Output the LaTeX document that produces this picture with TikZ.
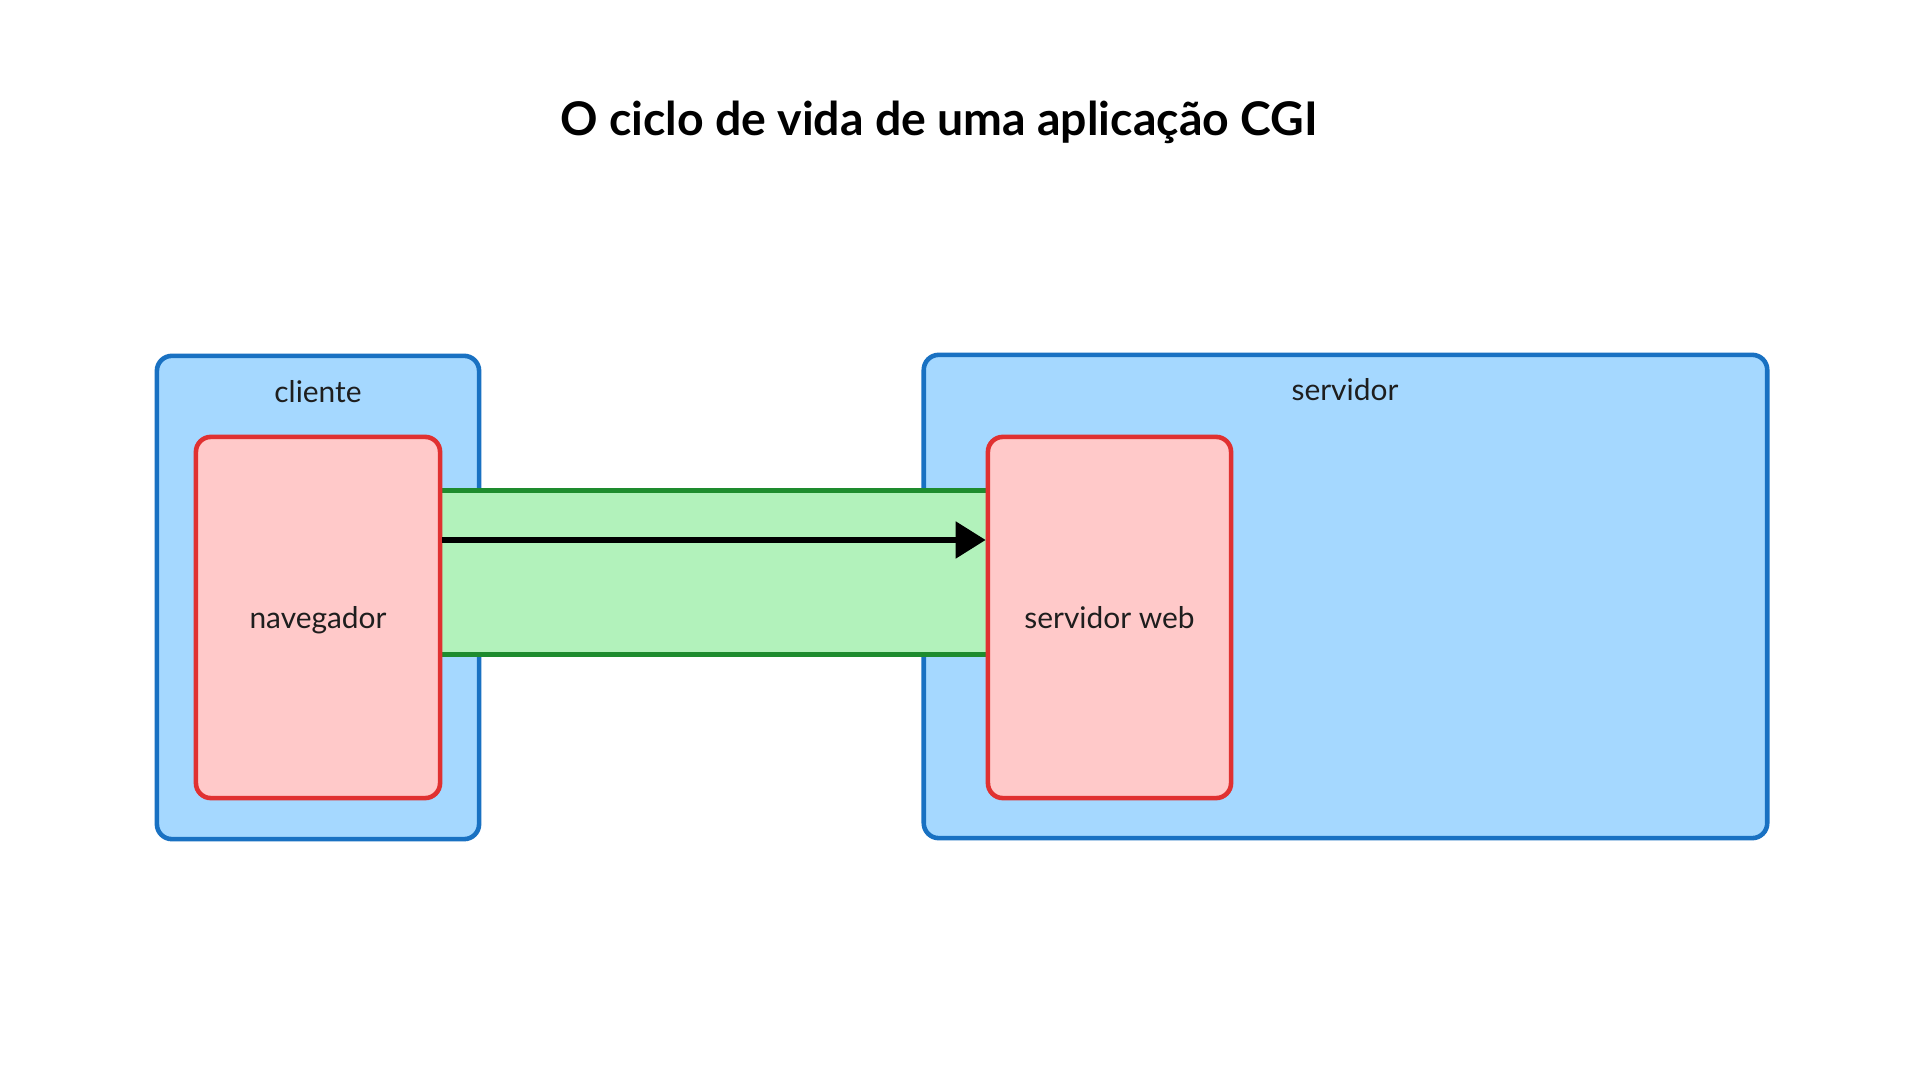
\documentclass[tikz,border=0pt]{standalone}
\usepackage{fontspec}
\setmainfont{Lato}
\usetikzlibrary{arrows.meta}
\definecolor{bluefill}{HTML}{A5D8FF}
\definecolor{bluestroke}{HTML}{1971C2}
\definecolor{redfill}{HTML}{FFC9C9}
\definecolor{redstroke}{HTML}{E03131}
\definecolor{greenfill}{HTML}{B2F2BB}
\definecolor{greenstroke}{HTML}{1E8C2E}
\definecolor{ink}{HTML}{1E1E1E}
\tikzset{
  container/.style={draw=bluestroke, fill=bluefill, line width=1.3pt, rounded corners=0.15cm, inner sep=0pt},
  procbox/.style={draw=redstroke, fill=redfill, line width=1.3pt, rounded corners=0.15cm, inner sep=0pt, text=ink, text depth=0pt, font=\fontsize{8.5}{10}\selectfont},
  bandbox/.style={fill=greenfill, draw=none, inner sep=0pt},
  bandline/.style={draw=greenstroke, line width=1.3pt},
  lbl/.style={text=ink, font=\fontsize{8.5}{10}\selectfont, inner sep=0pt},
  flow/.style={draw=black, line width=1.5pt, -{Triangle[length=0.3cm, width=0.36cm]}},
}
\begin{document}
\begin{tikzpicture}[x=0.01cm, y=-0.01cm]
\useasboundingbox[fill=white] (0,0) rectangle (1920,1080);

\node[text=black, font=\fontsize{13.2}{16}\selectfont\bfseries, inner sep=0pt] (title) at (939,122) {O ciclo de vida de uma aplicação CGI};

\node[container, minimum width=3.22cm, minimum height=4.83cm] (cliente) at (318,597.5) {};
\node[container, minimum width=8.43cm, minimum height=4.83cm] (servidor) at (1345.5,596.5) {};
\node[lbl] (clientelbl) at (318,392) {cliente};
\node[lbl] (servidorlbl) at (1345,390) {servidor};

\node[bandbox, minimum width=5.48cm, minimum height=1.63cm] (band) at (714,572.5) {};
\draw[bandline] (band.north west) -- (band.north east);
\draw[bandline] (band.south west) -- (band.south east);

\node[procbox, minimum width=2.44cm, minimum height=3.61cm] (navegador) at (318,617.5) {navegador};
\node[procbox, minimum width=2.43cm, minimum height=3.61cm] (servweb) at (1109.5,617.5) {servidor web};

\coordinate (a0) at (navegador.east |- 0,540);
\coordinate (a1) at (servweb.west |- 0,540);
\draw[flow] (a0) -- (a1);
\end{tikzpicture}
\end{document}
